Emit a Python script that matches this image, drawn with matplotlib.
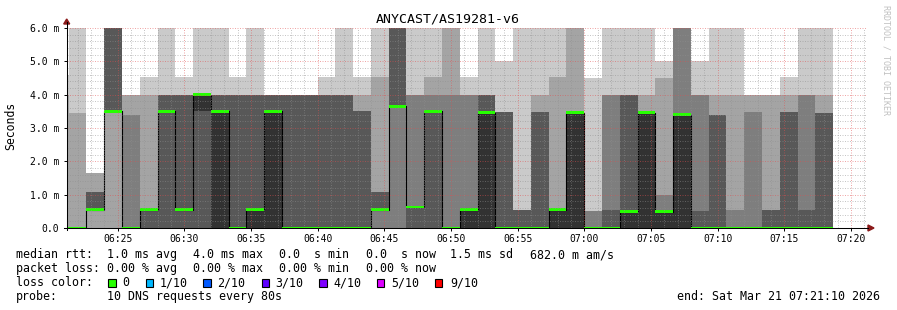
import numpy as np
import matplotlib
matplotlib.use("Agg")
import matplotlib.pyplot as plt
from matplotlib.patches import Rectangle, Polygon
import pandas as pd

# ---------------- data ----------------
title = "ANYCAST/AS19281-v6"
window_start = pd.Timestamp("2026-03-21 06:21:10")
window_end = pd.Timestamp("2026-03-21 07:21:10")
first_step = pd.Timestamp("2026-03-21 06:19:59")
step_seconds = 80
n_steps = 44

# sorted ping times (ms) per 80 s step; 7 = off scale (above 6 ms)
ping1 = [0] * 44
ping2 = [0] * 44
ping3 = [0, 0, 0.53, 3.5] + [0] * 40
ping4 = [0, 0, 0.53, 3.5, 0, 0, 0, 0, 0, 0, 0, 0, 0, 0, 0, 0, 0, 0, 0.53, 3.65] + [0] * 24
ping5 = [0, 0, 0.53, 3.5, 0, 0.53, 3.5, 0.53, 3.5, 0, 0, 0, 0, 0, 0, 0, 0, 0, 0.53, 3.65,
         0.63, 3.5] + [0] * 22
ping6 = [0, 0, 0.53, 3.5, 0, 0.53, 3.5, 0.53, 4.0, 3.5, 0, 0.53, 3.5, 0, 0, 0, 0, 0, 0.53, 3.65,
         0.63, 3.5, 0, 0.53, 3.46, 0, 0, 0, 0.53, 3.46, 0, 0, 0.5, 3.46, 0.49, 3.4,
         0, 0, 0, 0, 0, 0, 0, 0]
ping7 = [0, 0, 1.08, 7, 0, 0.53, 4.0, 4.0, 4.0, 4.0, 4.0, 4.0, 4.0, 4.0, 4.0, 4.0, 4.0, 3.5, 1.08, 7,
         0.63, 3.5, 0, 0.53, 4.0, 3.48, 0.53, 3.48, 0.53, 3.46, 0, 0.53, 4.0, 3.46, 0.49, 3.4,
         0.5, 3.4, 0, 0, 0.53, 3.48, 0.53, 3.45]
ping8 = [0, 0, 1.08, 7, 3.4, 0.53, 4.0, 4.0, 4.0, 4.0, 4.0, 4.0, 4.0, 4.0, 4.0, 4.0, 4.0, 3.5, 1.08, 7,
         4.0, 4.0, 4.0, 4.0, 4.0, 3.48, 0.53, 3.48, 0.53, 3.46, 0.5, 4.0, 4.0, 3.46, 0.99, 7,
         4.0, 3.4, 0.53, 3.48, 0.53, 3.48, 4.0, 3.45]
ping9 = [4.0, 3.46, 1.65, 7, 4.0, 4.0, 4.0, 4.0, 4.0, 4.0, 4.0, 4.0, 4.0, 4.0, 4.0, 4.0, 4.0, 4.0, 4.53, 7,
         4.0, 4.53, 7, 4.0, 4.0, 3.48, 0.53, 4.0, 4.53, 7, 0.5, 4.0, 4.0, 4.0, 4.49, 7,
         4.0, 4.0, 4.0, 4.0, 4.0, 4.0, 4.0, 4.0]
ping10 = [4.6, 7, 1.65, 7, 4.0, 4.53, 7, 4.53, 7, 7, 4.53, 7, 4.0, 4.0, 4.0, 4.53, 7, 4.53, 7, 7,
          7, 7, 7, 4.53, 7, 5.0, 7, 7, 7, 7, 4.5, 7, 7, 7, 5.0, 7,
          5.0, 7, 7, 4.0, 4.0, 4.53, 7, 7]
median = [0, 0, 0.55, 3.5, 0, 0.55, 3.5, 0.55, 4.0, 3.5, 0, 0.55, 3.5, 0, 0, 0, 0, 0, 0.55, 3.65,
          0.63, 3.5, 0, 0.55, 3.46, 0, 0, 0, 0.55, 3.46, 0, 0, 0.5, 3.46, 0.49, 3.4,
          0, 0, 0, 0, 0, 0, 0, 0]

yticks = [0, 1, 2, 3, 4, 5, 6]
ytick_labels = ["0.0", "1.0 m", "2.0 m", "3.0 m", "4.0 m", "5.0 m", "6.0 m"]
xtick_labels = ["06:25", "06:30", "06:35", "06:40", "06:45", "06:50", "06:55",
                "07:00", "07:05", "07:10", "07:15", "07:20"]

loss_labels = ["0", "1/10", "2/10", "3/10", "4/10", "5/10", "9/10"]
loss_colors = ["#26ff00", "#00b8ff", "#0059ff", "#5e00ff", "#7e00ff", "#dd00ff", "#ff0000"]

# ---------------- figure ----------------
W, H = 897, 310
fig = plt.figure(figsize=(W / 100, H / 100), dpi=100)
fig.patch.set_facecolor("white")
MONO = "DejaVu Sans Mono"

def fx(x):
    return x / W

def fy(y):
    return 1 - y / H

x0, x1, yb, yt = 66.7, 866.7, 228, 28
ax = fig.add_axes([fx(x0), fy(yb), (x1 - x0) / W, (yb - yt) / H])
ax.set_facecolor("white")

def minutes(ts):
    return (ts - window_start).total_seconds() / 60.0

total_min = minutes(window_end)
edges = np.array([minutes(first_step + pd.Timedelta(seconds=step_seconds * i)) for i in range(n_steps + 1)])

P = np.array([ping1, ping2, ping3, ping4, ping5, ping6, ping7, ping8, ping9, ping10], dtype=float)
shades = ["#cacaca", "#a4a4a4", "#7e7e7e", "#585858", "#323232"]
for i in range(5):
    lo = np.r_[P[i], P[i][-1]]
    hi = np.r_[P[9 - i], P[9 - i][-1]]
    ax.fill_between(edges, lo, hi, step="post", color=shades[i], lw=0, antialiased=False, zorder=1)

med = np.array(median, dtype=float)
med_e = np.r_[med, med[-1]]
ax.step(edges, med_e, where="post", color="#000000", lw=0.8, zorder=3)
sw = 0.042
ax.fill_between(edges, med_e - sw, med_e + sw, step="post", color=loss_colors[0], lw=0,
                antialiased=False, zorder=4)

# grid (drawn over data, rrdtool style)
first_min = minutes(pd.Timestamp("2026-03-21 06:22:00"))
major_x = [minutes(pd.Timestamp("2026-03-21 06:25:00")) + 5 * k for k in range(12)]
minor_x = [first_min + k for k in range(60) if first_min + k < total_min]
minor_x = [m for m in minor_x if min(abs(m - mj) for mj in major_x) > 1e-6]
dots = (0, (1, 1.5))
gkw = dict(lw=0.72, ls=dots, zorder=5, alpha=0.5, snap=True)
for m in minor_x:
    ax.axvline(m, color="#8f8f8f", **gkw)
for m in major_x:
    ax.axvline(m, color="#e05050", **gkw)
for v in np.arange(0.2, 6.01, 0.2):
    if abs(v - round(v)) < 1e-6:
        ax.axhline(v, color="#e05050", **gkw)
    else:
        ax.axhline(v, color="#8f8f8f", **gkw)

ax.set_xlim(0, total_min)
ax.set_ylim(0, 6.0)
for s in ["top", "right", "left", "bottom"]:
    ax.spines[s].set_visible(False)

ax.set_yticks(yticks)
ax.set_yticklabels(ytick_labels, fontfamily=MONO, fontsize=7)
ax.set_xticks(major_x)
ax.set_xticklabels(xtick_labels, fontfamily=MONO, fontsize=7)
ax.tick_params(axis="y", length=2, width=0.7, pad=3.2, colors="#000000")
ax.tick_params(axis="x", length=2, width=0.7, pad=2.5, colors="#000000")

# axis lines + arrows
fig.add_artist(plt.Line2D([fx(x0), fx(x0)], [fy(yb + 2), fy(22)], color="#000000", lw=0.75))
fig.add_artist(plt.Line2D([fx(x0 - 3), fx(868)], [fy(yb), fy(yb)], color="#000000", lw=0.75))
fig.add_artist(Polygon([(fx(x0 - 3), fy(24)), (fx(x0 + 3), fy(24)), (fx(x0), fy(19))],
                       closed=True, color="#8b1a1a", transform=fig.transFigure))
fig.add_artist(Polygon([(fx(868), fy(yb - 3)), (fx(868), fy(yb + 3)), (fx(874), fy(yb))],
                       closed=True, color="#8b1a1a", transform=fig.transFigure))

# titles
fig.text(fx(448), fy(19), title, ha="center", va="center", fontfamily=MONO, fontsize=9.5)
fig.text(fx(11), fy(126), "Seconds", ha="center", va="center", rotation=90,
         fontfamily=MONO, fontsize=8.3)
fig.text(fx(886), fy(5), "RRDTOOL / TOBI OETIKER", ha="center", va="top", rotation=270,
         fontfamily=MONO, fontsize=6, color="#c0c0c0")

# legend
fs = 8.35
def t(x, y, s, **kw):
    fig.text(fx(x), fy(y), s, ha=kw.pop("ha", "left"), va="center", fontfamily=MONO, fontsize=fs, **kw)

y1, y2, y3, y4 = 254.5, 268.5, 282.5, 296.5
t(16, y1, "median rtt:")
t(107, y1, "1.0 ms avg")
t(193, y1, "4.0 ms max")
t(279, y1, "0.0  s min")
t(366, y1, "0.0  s now")
t(450, y1, "1.5 ms sd")
t(530, y1, "682.0 m am/s")
t(16, y2, "packet loss:")
t(107, y2, "0.00 % avg")
t(193, y2, "0.00 % max")
t(279, y2, "0.00 % min")
t(366, y2, "0.00 % now")
t(16, y3, "loss color:")
box_x = [108.3, 145.7, 203.3, 261.7, 319.3, 376.7, 435]
lab_x = [122.7, 159.3, 217.3, 275.3, 333.3, 391, 450]
for bx, lx, lab, col in zip(box_x, lab_x, loss_labels, loss_colors):
    fig.add_artist(Rectangle((fx(bx), fy(286.5)), 7.4 / W, 7.4 / H, facecolor=col,
                             edgecolor="#000000", lw=0.8, transform=fig.transFigure))
    t(lx, y3, lab)
t(16, y4, "probe:")
t(107, y4, "10 DNS requests every 80s")
t(880, y4, "end: Sat Mar 21 07:21:10 2026", ha="right")

fig.savefig("out.png", dpi=100, facecolor="white")
